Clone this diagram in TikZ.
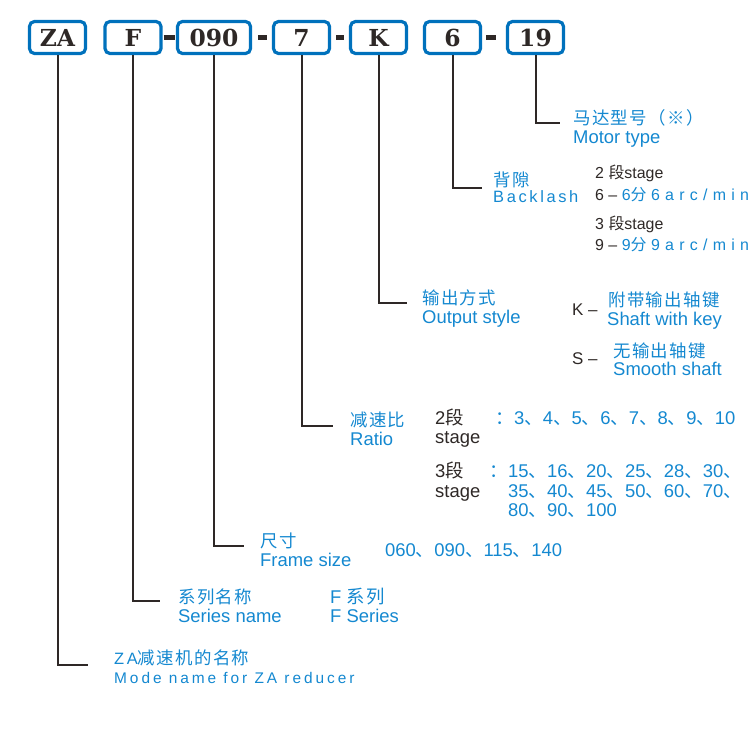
\documentclass[tikz,border=0pt]{standalone}
\usepackage{fontspec}
\setmainfont{Liberation Sans}
\newfontfamily\cjk{Noto Sans CJK SC}
\newfontfamily\cjkw[LetterSpace=8]{Noto Sans CJK SC}
\newfontfamily\wide[LetterSpace=16]{Liberation Sans}
\newfontfamily\wideb[LetterSpace=19]{Liberation Sans}
\newfontfamily\wider[LetterSpace=33]{Liberation Sans}
\newfontfamily\boxfont{DejaVu Serif}
\usepackage{xcolor}
\definecolor{zBlue}{HTML}{0071BC}
\definecolor{zText}{HTML}{1488D0}
\definecolor{zDark}{HTML}{2E2826}
\usepackage{tikz}
\newcommand\sepc{{\cjk 、}}

\begin{document}
\begin{tikzpicture}[x=1bp, y=-1bp,
  box/.style={draw=zBlue, line width=3.2bp, rounded corners=5bp,
              minimum width=56bp, minimum height=32bp, inner sep=0pt,
              text=zDark, font=\boxfont\bfseries\fontsize{23.5}{23.5}\selectfont},
  lead/.style={draw=zDark, line width=2bp},
  dashbar/.style={draw=zDark, line width=4.5bp},
  lab/.style={anchor=base west, inner sep=0pt, text=zText,
              font=\fontsize{18.5}{20}\selectfont},
  cn/.style={lab, font=\fontsize{17.5}{18}\selectfont\cjkw},
  sub/.style={anchor=base west, inner sep=0pt, text=zDark,
              font=\fontsize{18.5}{20}\selectfont}
]
\useasboundingbox (0,0) rectangle (755,741);
% code boxes
\node[box] (bZA)  at (57.5,37.5)  {ZA};
\node[box] (bF)   at (133,37.5)   {F};
\node[box, minimum width=73bp] (b090) at (214,37.5) {090};
\node[box] (b7)   at (301.5,37.5) {7};
\node[box] (bK)   at (378.5,37.5) {K};
\node[box] (b6)   at (452.5,37.5) {6};
\node[box] (b19)  at (535.5,37.5) {19};
\draw[dashbar, shorten <=1bp, shorten >=1bp] (bF.east) -- (b090.west);
\draw[dashbar, shorten <=6bp, shorten >=5bp] (b090.east) -- (b7.west);
\draw[dashbar, shorten <=5bp, shorten >=5bp] (b7.east) -- (bK.west);
\draw[dashbar, shorten <=4bp, shorten >=10bp] (b6.east) -- (b19.west);
% lead ends
\coordinate (eZA)  at (88,665);
\coordinate (eF)   at (160,601);
\coordinate (e090) at (244,546);
\coordinate (e7)   at (333,426);
\coordinate (eK)   at (407,303);
\coordinate (e6)   at (482,188);
\coordinate (e19)  at (560,123);
\draw[lead] (bZA.south)  |- (eZA);
\draw[lead] (bF.south)   |- (eF);
\draw[lead] (b090.south) |- (e090);
\draw[lead] (b7.south)   |- (e7);
\draw[lead] (bK.south)   |- (eK);
\draw[lead] (b6.south)   |- (e6);
\draw[lead] (b19.south)  |- (e19);
% motor type
\node[cn] (tMotorCn) at (573,124) {马达型号（※）};
\node[lab] (tMotorEn) at (573,143) {Motor type};
% backlash
\node[cn] (tBackCn) at (493,186) {背隙};
\node[lab, font=\fontsize{16.5}{18}\selectfont] (tBackEn) at (493,202) {\wide Backlash};
\node[sub, font=\fontsize{16}{18}\selectfont] (tStage2) at (595,178) {2 {\cjk 段}stage};
\node[sub, font=\fontsize{16}{18}\selectfont] (tBack6) at (595,200)
  {6 – \textcolor{zText}{6{\cjk 分} {\wider 6arc/min}}};
\node[sub, font=\fontsize{16}{18}\selectfont] (tStage3) at (595,229) {3 {\cjk 段}stage};
\node[sub, font=\fontsize{16}{18}\selectfont] (tBack9) at (595,250)
  {9 – \textcolor{zText}{9{\cjk 分} {\wider 9arc/min}}};
% output style
\node[cn] (tOutCn) at (422,304) {输出方式};
\node[lab] (tOutEn) at (422,323) {Output style};
\node[sub, font=\fontsize{17}{18}\selectfont] (tKey) at (572,315) {K –};
\node[cn] (tKeyCn) at (608,306) {附带输出轴键};
\node[lab] (tKeyEn) at (607,325) {Shaft with key};
\node[sub, font=\fontsize{17}{18}\selectfont] (tSmooth) at (572,364) {S –};
\node[cn] (tSmoothCn) at (613,357) {无输出轴键};
\node[lab] (tSmoothEn) at (613,375) {Smooth shaft};
% ratio
\node[cn] (tRatioCn) at (350,426) {减速比};
\node[lab] (tRatioEn) at (350,445) {Ratio};
\node[sub] (tR2a) at (435,424) {2{\cjk 段}};
\node[sub] (tR2b) at (435,443) {stage};
\node[lab] (tR2c) at (495,424) {\cjk ：};
\node[lab] (tR2v) at (514,424) {3\sepc 4\sepc 5\sepc 6\sepc 7\sepc 8\sepc 9\sepc 10};
\node[sub] (tR3a) at (435,477) {3{\cjk 段}};
\node[sub] (tR3b) at (435,497) {stage};
\node[lab] (tR3c) at (489,477) {\cjk ：};
\node[lab] (tR3v1) at (508,477) {15\sepc 16\sepc 20\sepc 25\sepc 28\sepc 30\sepc};
\node[lab] (tR3v2) at (508,497) {35\sepc 40\sepc 45\sepc 50\sepc 60\sepc 70\sepc};
\node[lab] (tR3v3) at (508,516) {80\sepc 90\sepc 100};
% frame size
\node[cn] (tSizeCn) at (260,547) {尺寸};
\node[lab] (tSizeEn) at (260,566) {Frame size};
\node[lab] (tSizeV) at (385,556) {060\sepc 090\sepc 115\sepc 140};
% series
\node[cn] (tSerCn) at (178,603) {系列名称};
\node[lab] (tSerEn) at (178,622) {Series name};
\node[lab] (tSerV1) at (330,603) {F {\cjkw 系列}};
\node[lab] (tSerV2) at (330,622) {F Series};
% model name
\node[cn] (tNameCn) at (114,664) {{\wide\fontsize{16.5}{18}\selectfont ZA}减速机的名称};
\node[lab, font=\fontsize{15.5}{18}\selectfont] (tNameEn) at (114,683) {\wideb Mode name for ZA reducer};
\end{tikzpicture}
\end{document}
